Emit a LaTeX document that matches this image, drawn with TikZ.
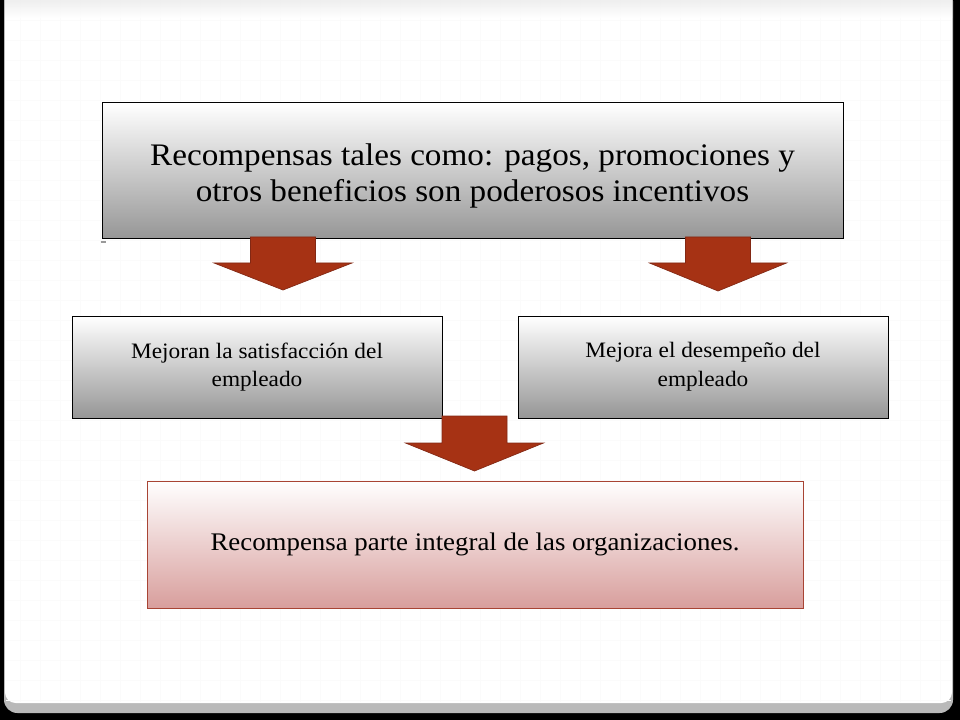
\documentclass[tikz,border=0pt]{standalone}
\usepackage{fontspec}
\setmainfont[FakeStretch=1.06]{Liberation Serif}
\usepackage{tikz}

\definecolor{boxgray}{RGB}{150,150,150}
\definecolor{arrowred}{RGB}{166,50,20}
\definecolor{arrowedge}{RGB}{130,40,20}
\definecolor{pinkend}{RGB}{216,158,156}
\definecolor{pinkedge}{RGB}{168,68,52}

\tikzset{
  graybox/.style={draw=black, line width=0.75pt, top color=white, bottom color=boxgray, align=center, inner sep=0pt},
  pinkbox/.style={draw=pinkedge, line width=0.75pt, top color=white, bottom color=pinkend, align=center, inner sep=0pt},
  bigarrow/.style={fill=arrowred, draw=arrowedge, line width=0.5pt, line join=miter},
  gridline/.style={draw=gray!3, line width=0.5pt}
}

\begin{document}
\begin{tikzpicture}[x=0.75pt,y=-0.75pt]
\useasboundingbox (0,0) rectangle (960,720);
% slide frame
\fill[black] (0,0) rectangle (960,720);
\fill[gray!55, rounded corners=10] (4,-12) rectangle (953,713);
\fill[white, rounded corners=8] (5,-12) rectangle (952,703);
\foreach \x in {20,40,...,940} \draw[gridline] (\x,0) -- (\x,702);
\foreach \y in {20,40,...,700} \draw[gridline] (6,\y) -- (951,\y);
\shade[top color=gray!16, bottom color=white, opacity=0.8] (5,0) rectangle (952,18);

% boxes
\node[graybox, minimum width=555.75pt, minimum height=102pt] (premios) at (472.5,171) {};
\node[align=center, font=\fontsize{23.5}{27}\selectfont] (premiostxt) at ([yshift=-3.5pt]premios.center)
  {Recompensas tales como: pagos, promociones y\\otros beneficios son poderosos incentivos};
\node[graybox, minimum width=277.5pt, minimum height=76.5pt, font=\fontsize{16.5}{21.5}\selectfont] (satisf) at (257,367)
  {Mejoran la satisfacción del\\empleado};
\node[graybox, minimum width=277.5pt, minimum height=76.5pt, font=\fontsize{16.5}{21.5}\selectfont] (desemp) at (703,367)
  {Mejora el desempeño del\\empleado};
\node[pinkbox, minimum width=492pt, minimum height=95.25pt, font=\fontsize{19}{23}\selectfont] (integral) at (475,544.5)
  {Recompensa parte integral de las organizaciones.};
\draw[gray!80, line width=1.2pt] (premios.south west) ++(-1,2.5) -- ++(5,0);

% block arrows
\draw[bigarrow, shift={(283,237)}] (-32.5,0) -- (32.5,0) -- (32.5,26) -- (69,26) -- (0,53) -- (-69,26) -- (-32.5,26) -- cycle;
\draw[bigarrow, shift={(718,237)}] (-32.5,0) -- (32.5,0) -- (32.5,26) -- (68.5,26) -- (0,54) -- (-68.5,26) -- (-32.5,26) -- cycle;
\draw[bigarrow, shift={(474.5,416)}] (-32.5,0) -- (32.5,0) -- (32.5,27) -- (69,27) -- (0,55) -- (-69,27) -- (-32.5,27) -- cycle;
\end{tikzpicture}
\end{document}
